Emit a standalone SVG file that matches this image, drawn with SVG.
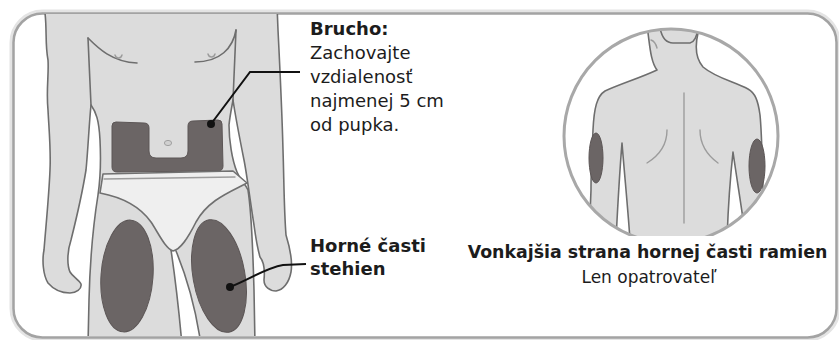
<svg xmlns="http://www.w3.org/2000/svg" width="839" height="340" viewBox="0 0 839 340">
  <defs>
    <style>
      .skin{fill:#dcdcdc;stroke:none}
      .edge{fill:none;stroke:#6e6e6e;stroke-width:1.6;stroke-linejoin:round;stroke-linecap:round}
      .soft{fill:none;stroke:#9c9c9c;stroke-width:1.4;stroke-linecap:round}
      .zone{fill:#6b6565;stroke:#5c5656;stroke-width:1}
      .lead{fill:none;stroke:#111;stroke-width:2}
      .dot{fill:#111}
      .lbl{font-family:"DejaVu Sans",Verdana,sans-serif;font-size:18px;fill:#1c1c1c}
      .b{font-weight:bold}
    </style>
    <clipPath id="frameClip"><rect x="14" y="14" width="821" height="322" rx="28"/></clipPath>
    <clipPath id="circleClip"><circle cx="671" cy="136" r="107"/></clipPath>
    <clipPath id="backCut"><rect x="540" y="0" width="280" height="236"/></clipPath>
  </defs>

  <!-- card frame -->
  <g id="frame">
    <rect x="13.5" y="13.5" width="823" height="324" rx="29" fill="none" stroke="#e4e4e4" stroke-width="8"/>
    <rect x="13.5" y="13.5" width="823" height="324" rx="29" fill="#fff" stroke="#a3a3a3" stroke-width="2.5"/>
  </g>

  <!-- front view: abdomen and thighs -->
  <g id="front-figure" clip-path="url(#frameClip)">
    <path class="skin" d="M45,5 L45,13 C47,30 45,45 48,60 C49,75 46,90 48,110 C49,130 51,150 50,170 C49,195 46,225 44,250 C42,260 43,275 48,283 C54,290 62,293 70,293 C76,293 82,289 81,284 C79,280 73,277 70,272 C67,265 67,252 71,240 C76,220 82,195 86,170 C88,150 89,125 91,105 C96,112 99,120 100,140 C101,160 101,175 98,195 C94,220 90,260 89,300 L88,345 L255,345 L254,290 C253,255 252,215 248,190 C245,183 240,180 237,172 C232,160 229,140 229,125 C230,115 232,106 233,100 C236,120 240,140 244,160 C247,175 250,200 254,225 C256,240 258,250 260,257 C264,262 265,270 264,280 C264,287 270,291 276,291 C283,290 289,283 291,272 C293,260 290,248 286,235 C284,210 284,180 283,150 C282,110 280,70 278,30 L277,5 Z"/>
    <!-- gap between the legs -->
    <path d="M171,250 C174,270 178,300 182,345 L201,345 C196,310 188,280 176,251 Z" fill="#fff"/>
    <path class="edge" d="M171,250 C174,270 178,300 182,345 M201,345 C196,310 188,280 176,251"/>
    <!-- arms -->
    <path class="edge" d="M45,5 L45,13 C47,30 45,45 48,60 C49,75 46,90 48,110 C49,130 51,150 50,170 C49,195 46,225 44,250 C42,260 43,275 48,283 C54,290 62,293 70,293 C76,293 82,289 81,284 C79,280 73,277 70,272 C67,265 67,252 71,240 C76,220 82,195 86,170 C88,150 89,125 91,105"/>
    <path class="edge" d="M233,100 C236,120 240,140 244,160 C247,175 250,200 254,225 C256,240 258,250 260,257 C264,262 265,270 264,280 C264,287 270,291 276,291 C283,290 289,283 291,272 C293,260 290,248 286,235 C284,210 284,180 283,150 C282,110 280,70 278,30 L277,5"/>
    <!-- torso sides -->
    <path class="edge" d="M88,38 C89,60 90,85 91,105 C96,112 99,120 100,140 C101,160 101,175 98,195 C94,220 90,260 89,300 L88,345"/>
    <path class="edge" d="M236,30 C235,55 234,80 233,100 C232,106 230,115 229,125 C229,140 232,160 237,172 C240,180 245,183 248,190 C252,215 253,255 254,290 L255,345"/>
    <!-- chest -->
    <path class="edge" d="M88,38 C98,48 112,62 137,63"/>
    <path class="edge" d="M236,30 C233,48 220,62 195,62"/>
    <path class="soft" d="M115,55 C116,59 121,59 122,55 M208,54 C209,58 214,58 215,54" stroke-width="1.2"/>
    <!-- abdomen injection area -->
    <path class="zone" d="M116,122 L144,123 Q149,123 149,128 L149,151 Q149,158 156,158 L181,158 Q188,158 188,151 L188,126 Q188,121 193,121 L218,120 Q222,120 222,124 L223,166 Q223,171 218,171 L117,172 Q112,172 112,167 L112,126 Q112,122 116,122 Z"/>
    <ellipse cx="168" cy="143" rx="3.6" ry="2.6" fill="#d0d0d0" stroke="#a0a0a0" stroke-width="1"/>
    <!-- underwear -->
    <path d="M103,174 L233,171 L247,183 C230,192 208,200 196,222 C188,238 181,249 173,251 C165,248 159,234 151,222 C139,205 121,197 100,193 Z" fill="#efefef" stroke="#707070" stroke-width="1.6" stroke-linejoin="round"/>
    <path class="soft" d="M104,179 L235,177"/>
    <!-- thigh injection areas -->
    <ellipse class="zone" cx="127" cy="276" rx="26" ry="56" transform="rotate(4 127 276)"/>
    <ellipse class="zone" cx="219" cy="276" rx="26" ry="57" transform="rotate(-10 219 276)"/>
  </g>

  <!-- back view: outer upper arms -->
  <g id="back-figure">
    <circle cx="671" cy="136" r="107" fill="#fff"/>
    <g clip-path="url(#backCut)">
      <g clip-path="url(#circleClip)">
        <path class="skin" d="M648,20 L648,33 C650,48 651,62 657,70 C640,78 620,84 605,91 C597,96 594,108 593,130 C592,150 591,170 591,190 L589,240 L616,240 C617,220 619,180 622,143 C625,180 628,210 630,240 L727,240 C728,210 730,180 733,152 C737,180 742,210 746,240 L767,240 L763,190 C762,160 762,135 760,115 C758,100 755,93 748,89 C735,82 716,78 703,67 C697,60 694,50 698,33 L698,20 Z"/>
        <path class="edge" d="M648,20 L648,33 C650,48 651,62 657,70 C640,78 620,84 605,91 C597,96 594,108 593,130 C592,150 591,170 591,190 L589,240"/>
        <path class="edge" d="M698,20 L698,33 C694,50 697,60 703,67 C716,78 735,82 748,89 C755,93 758,100 760,115 C762,135 762,160 763,190 L767,240"/>
        <path class="edge" d="M616,240 C617,220 619,180 622,143 C625,180 628,210 630,240"/>
        <path class="edge" d="M746,240 C742,210 737,180 733,152 C730,180 728,210 727,240"/>
        <path class="edge" d="M660,28 C662,38 666,43 673,43 L690,43 C695,42 697,36 698,28"/>
        <path class="soft" d="M651,40 C654,41 656,44 657,48"/>
        <path class="soft" d="M684,93 L684,223"/>
        <path class="soft" d="M667,130 C667,145 660,155 647,163 M700,130 C700,145 707,155 718,163"/>
        <ellipse class="zone" cx="596" cy="158" rx="7" ry="25"/>
        <ellipse class="zone" cx="757" cy="166" rx="8" ry="27"/>
      </g>
      <circle cx="671" cy="136" r="107" fill="none" stroke="#a8a8a8" stroke-width="3"/>
    </g>
  </g>

  <!-- leader lines -->
  <g id="connectors">
    <path class="lead" d="M211,124 L250,72 L300,72"/>
    <circle class="dot" cx="211" cy="124" r="4"/>
    <path class="lead" d="M230,287 C252,278 266,268 283,265 L306,264"/>
    <circle class="dot" cx="230" cy="287" r="4"/>
  </g>

  <!-- labels -->
  <g id="label-abdomen">
    <text class="lbl b" x="310" y="35">Brucho:</text>
    <text class="lbl" x="310" y="59">Zachovajte</text>
    <text class="lbl" x="310" y="83">vzdialenosť</text>
    <text class="lbl" x="310" y="107">najmenej 5 cm</text>
    <text class="lbl" x="310" y="131">od pupka.</text>
  </g>
  <g id="label-thighs">
    <text class="lbl b" x="310" y="252">Horné časti</text>
    <text class="lbl b" x="310" y="275">stehien</text>
  </g>
  <g id="label-arms">
    <text class="lbl b" x="647.5" y="258" text-anchor="middle" style="font-size:17.4px">Vonkajšia strana hornej časti ramien</text>
    <text class="lbl" x="649" y="283" text-anchor="middle" style="font-size:17px">Len opatrovateľ</text>
  </g>
</svg>
